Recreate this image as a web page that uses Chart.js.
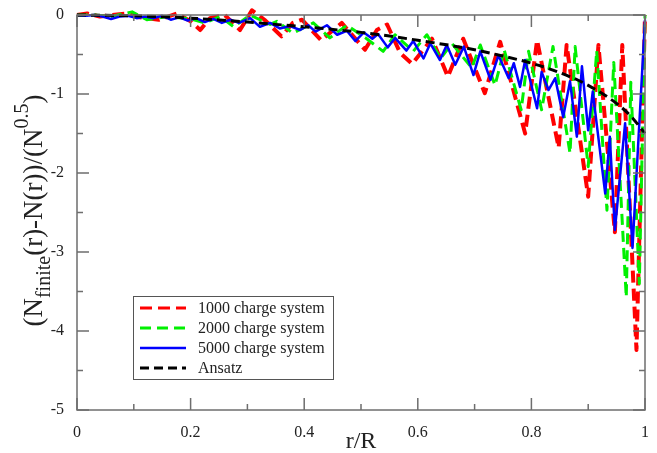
<!DOCTYPE html>
<html>
<head>
<meta charset="utf-8">
<script src="https://cdn.jsdelivr.net/npm/chart.js@4.4.1/dist/chart.umd.min.js"></script>
<style>
  html, body { margin: 0; padding: 0; background: #fff; }
  #wrap { width: 657px; height: 453px; }
</style>
</head>
<body>
<div id="wrap"><canvas id="chart" width="657" height="453"></canvas></div>
<script>
// values
const r1000 = [0, 0.018, 0.04, 0.06, 0.088, 0.11, 0.144, 0.176, 0.2, 0.217,
  0.234, 0.26, 0.287, 0.308, 0.33, 0.36, 0.38, 0.396, 0.43, 0.466,
  0.507, 0.528, 0.546, 0.569, 0.59, 0.625, 0.653, 0.68, 0.718, 0.745,
  0.789, 0.81, 0.848, 0.862, 0.9, 0.918, 0.947, 0.96, 0.985, 1.0];
const v1000 = [0, 0.02, -0.02, 0, 0.02, -0.03, -0.06, 0.02, -0.08, -0.19,
  -0.04, 0, -0.19, 0.06, -0.06, -0.27, -0.1, -0.06, -0.32, -0.1,
  -0.44, -0.19, -0.12, -0.48, -0.62, -0.3, -0.78, -0.3, -0.99, -0.34,
  -1.5, -0.32, -1.68, -0.38, -2.3, -0.38, -2.75, -0.38, -4.24, 0];

const r2000 = [0, 0.03, 0.06, 0.097, 0.123, 0.16, 0.2, 0.225, 0.252, 0.276,
  0.305, 0.322, 0.34, 0.352, 0.38, 0.416, 0.445, 0.475, 0.51, 0.539,
  0.56, 0.592, 0.616, 0.64, 0.66, 0.695, 0.71, 0.736, 0.752, 0.782,
  0.795, 0.818, 0.838, 0.868, 0.877, 0.9, 0.915, 0.933, 0.945, 0.967,
  0.975, 0.99, 1.0];
const v2000 = [0, 0, -0.02, 0.04, -0.06, -0.02, -0.05, -0.1, -0.02, -0.15,
  0, -0.06, -0.12, -0.08, -0.23, -0.1, -0.29, -0.13, -0.3, -0.46,
  -0.25, -0.46, -0.25, -0.55, -0.36, -0.67, -0.38, -0.89, -0.44, -1.2,
  -0.46, -1.2, -0.4, -1.75, -0.4, -1.92, -0.45, -2.47, -0.6, -3.57,
  -0.85, -3.4, 0];

const r5000 = [0, 0.015, 0.03, 0.045, 0.06, 0.075, 0.09, 0.105, 0.12, 0.135,
  0.15, 0.165, 0.18, 0.195, 0.21, 0.225, 0.24, 0.255, 0.27, 0.285,
  0.305, 0.322, 0.34, 0.357, 0.375, 0.393, 0.407, 0.42, 0.44, 0.458,
  0.475, 0.49, 0.505, 0.52, 0.53, 0.547, 0.56, 0.58, 0.592, 0.61,
  0.622, 0.639, 0.651, 0.666, 0.681, 0.698, 0.71, 0.728, 0.742, 0.76,
  0.769, 0.78, 0.789, 0.81, 0.818, 0.83, 0.842, 0.856, 0.868, 0.88,
  0.889, 0.9, 0.908, 0.93, 0.938, 0.947, 0.965, 0.978, 1.0];
const v5000 = [0, -0.01, 0, -0.02, -0.05, -0.02, -0.01, -0.04, -0.02, -0.04,
  -0.01, -0.06, -0.03, -0.07, -0.04, -0.09, -0.05, -0.1, -0.06, -0.1,
  -0.04, -0.15, -0.1, -0.17, -0.14, -0.19, -0.13, -0.21, -0.13, -0.25,
  -0.2, -0.33, -0.22, -0.3, -0.24, -0.41, -0.29, -0.45, -0.33, -0.55,
  -0.36, -0.57, -0.38, -0.63, -0.4, -0.76, -0.46, -0.82, -0.51, -0.8,
  -0.61, -0.91, -0.57, -1.18, -0.72, -0.95, -0.8, -1.29, -0.84, -1.54,
  -0.65, -1.46, -0.97, -2.26, -1.54, -2.72, -1.37, -2.95, -0.06];

const rAnsatz = [0, 0.1, 0.2, 0.3, 0.4, 0.5, 0.6, 0.7, 0.75, 0.8, 0.85, 0.9, 0.95, 0.975, 1.0];
const vAnsatz = [0, -0.01, -0.04, -0.09, -0.15, -0.22, -0.32, -0.44, -0.52, -0.61, -0.73, -0.89, -1.12, -1.28, -1.5];

const seriesLabels = ['1000 charge system', '2000 charge system', '5000 charge system', 'Ansatz'];
const xTicks = [0, 0.2, 0.4, 0.6, 0.8, 1];
const yTicks = [0, -1, -2, -3, -4, -5];

const SERIF = "'Liberation Serif', 'Times New Roman', serif";

function pts(xs, ys) {
    return xs.map((x, i) => ({ x: x, y: ys[i] }));
}

// frame, inward ticks, legend box and axis titles
const decor = {
    id: 'decor',
    afterDraw(chart) {
        const ctx = chart.ctx;
        const a = chart.chartArea;
        const xs = chart.scales.x, ys = chart.scales.y;
        ctx.save();
        ctx.strokeStyle = '#6e6e6e';
        ctx.lineWidth = 1.5;
        ctx.strokeRect(a.left, a.top, a.right - a.left, a.bottom - a.top);

        ctx.beginPath();
        for (let i = 0; i <= 10; i++) {
            const px = xs.getPixelForValue(i / 10);
            const len = i % 2 === 0 ? 12 : 6;
            ctx.moveTo(px, a.bottom); ctx.lineTo(px, a.bottom - len);
            ctx.moveTo(px, a.top); ctx.lineTo(px, a.top + len);
        }
        for (let i = 0; i <= 10; i++) {
            const py = ys.getPixelForValue(-i / 2);
            const len = i % 2 === 0 ? 12 : 6;
            ctx.moveTo(a.left, py); ctx.lineTo(a.left + len, py);
            ctx.moveTo(a.right, py); ctx.lineTo(a.right - len, py);
        }
        ctx.stroke();

        // legend
        const bx = 133, by = 296, bw = 200, bh = 83;
        ctx.fillStyle = '#fff';
        ctx.fillRect(bx, by, bw, bh);
        ctx.lineWidth = 1;
        ctx.strokeStyle = '#555';
        ctx.strokeRect(bx + 0.5, by + 0.5, bw, bh);
        ctx.font = '16px ' + SERIF;
        ctx.textBaseline = 'middle';
        ctx.textAlign = 'left';
        chart.data.datasets.forEach((ds, i) => {
            const y = by + 12 + i * 20;
            ctx.beginPath();
            ctx.strokeStyle = ds.borderColor;
            ctx.lineWidth = Math.min(ds.borderWidth, 3);
            ctx.setLineDash(ds.borderDash || []);
            ctx.moveTo(bx + 7, y); ctx.lineTo(bx + 53, y);
            ctx.stroke();
            ctx.setLineDash([]);
            ctx.fillStyle = '#222';
            ctx.fillText(ds.label, bx + 65, y + 1);
        });

        // x title
        ctx.fillStyle = '#222';
        ctx.textAlign = 'center';
        ctx.textBaseline = 'alphabetic';
        ctx.font = '24px ' + SERIF;
        ctx.fillText('r/R', (a.left + a.right) / 2, 448);

        // y title with sub/superscript
        const parts = [
            { t: '(N', size: 27, dy: 0 },
            { t: 'finite', size: 20, dy: 8 },
            { t: '(r)-N(r))/(N', size: 27, dy: 0 },
            { t: '0.5', size: 20, dy: -14 },
            { t: ')', size: 27, dy: 0 }
        ];
        let total = 0;
        parts.forEach(p => {
            ctx.font = p.size + 'px ' + SERIF;
            p.w = ctx.measureText(p.t).width;
            total += p.w;
        });
        ctx.translate(42, (a.top + a.bottom) / 2 - 2 + total / 2);
        ctx.rotate(-Math.PI / 2);
        ctx.textAlign = 'left';
        let off = 0;
        parts.forEach(p => {
            ctx.font = p.size + 'px ' + SERIF;
            ctx.fillText(p.t, off, p.dy);
            off += p.w;
        });
        ctx.restore();
    }
};

const ctx = document.getElementById('chart');
new Chart(ctx, {
    type: 'scatter',
    data: {
        datasets: [
            {
                label: seriesLabels[0],
                data: pts(r1000, v1000),
                showLine: true,
                borderColor: '#ff0000',
                borderWidth: 4,
                borderDash: [12, 6],
                borderJoinStyle: 'round',
                pointRadius: 0,
                clip: 8,
                order: 3
            },
            {
                label: seriesLabels[1],
                data: pts(r2000, v2000),
                showLine: true,
                borderColor: '#00f000',
                borderWidth: 3,
                borderDash: [11, 6],
                borderJoinStyle: 'round',
                pointRadius: 0,
                clip: 8,
                order: 2
            },
            {
                label: seriesLabels[2],
                data: pts(r5000, v5000),
                showLine: true,
                borderColor: '#0000ff',
                borderWidth: 2.5,
                borderJoinStyle: 'round',
                pointRadius: 0,
                clip: 8,
                order: 1
            },
            {
                label: seriesLabels[3],
                data: pts(rAnsatz, vAnsatz),
                showLine: true,
                borderColor: '#000000',
                borderWidth: 3,
                borderDash: [9, 5],
                pointRadius: 0,
                cubicInterpolationMode: 'monotone',
                clip: 8,
                order: 0
            }
        ]
    },
    options: {
        responsive: false,
        animation: false,
        layout: { padding: { top: 15, right: 12, left: 0, bottom: 0 } },
        plugins: {
            legend: { display: false },
            tooltip: { enabled: false }
        },
        scales: {
            x: {
                type: 'linear',
                min: 0,
                max: 1,
                grid: { display: false },
                border: { display: false },
                afterFit(s) { s.height = 43; },
                afterBuildTicks(s) { s.ticks = xTicks.map(v => ({ value: v })); },
                ticks: {
                    padding: 5,
                    color: '#222',
                    font: { family: SERIF, size: 16 },
                    callback: v => String(v)
                }
            },
            y: {
                type: 'linear',
                min: -5,
                max: 0,
                grid: { display: false },
                border: { display: false },
                afterFit(s) { s.width = 77; },
                afterBuildTicks(s) { s.ticks = yTicks.map(v => ({ value: v })); },
                ticks: {
                    padding: 5,
                    color: '#222',
                    font: { family: SERIF, size: 16 },
                    callback: v => String(v)
                }
            }
        }
    },
    plugins: [decor]
});
</script>
</body>
</html>
